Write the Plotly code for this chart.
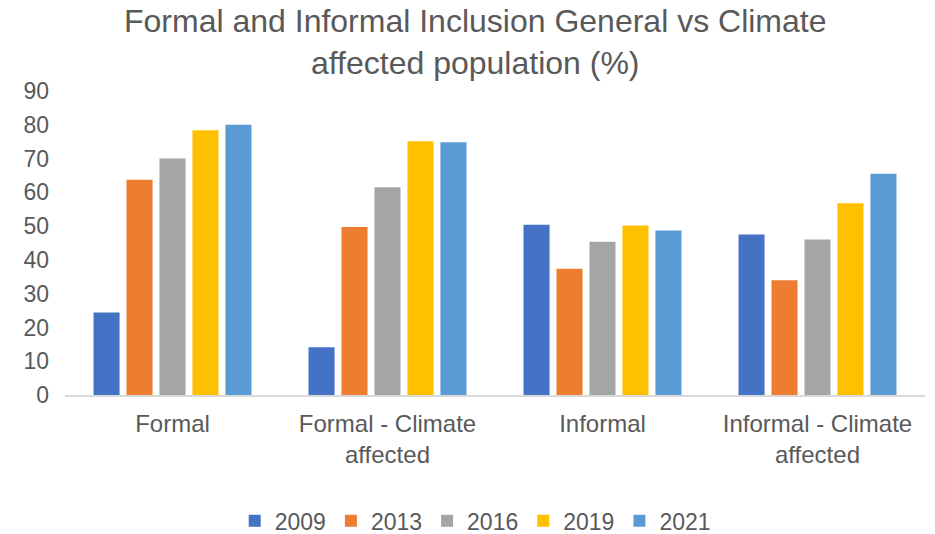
import plotly.graph_objects as go

categories = ["Formal", "Formal - Climate<br>affected", "Informal", "Informal - Climate<br>affected"]
years = ["2009", "2013", "2016", "2019", "2021"]
values_2009 = [24.4, 14.1, 50.4, 47.5]
values_2013 = [63.7, 49.7, 37.4, 34.0]
values_2016 = [70.0, 61.5, 45.4, 46.0]
values_2019 = [78.4, 75.1, 50.2, 56.8]
values_2021 = [80.0, 74.8, 48.7, 65.5]
y_ticks = [0, 10, 20, 30, 40, 50, 60, 70, 80, 90]

series = [values_2009, values_2013, values_2016, values_2019, values_2021]
colors = ["#4472C4", "#ED7D31", "#A5A5A5", "#FFC000", "#5B9BD5"]

font_family = "Arial, Liberation Sans, sans-serif"
text_color = "#595959"

fig = go.Figure()
for year, vals, col in zip(years, series, colors):
    fig.add_trace(go.Bar(
        x=categories, y=vals, name=year,
        marker=dict(color=col, line=dict(width=0)),
    ))

# chart title as a centred two-line annotation above the plot area
fig.add_annotation(
    text="Formal and Informal Inclusion General vs Climate<br>affected population (%)",
    xref="paper", yref="paper", x=0.477, y=1.161,
    xanchor="center", yanchor="middle", showarrow=False,
    font=dict(size=32, color=text_color, family=font_family),
)

fig.update_layout(
    width=935, height=534,
    margin=dict(l=65, r=10, t=91, b=139, autoexpand=False),
    paper_bgcolor="white", plot_bgcolor="white",
    barmode="group", bargap=0.233, bargroupgap=0.21,
    font=dict(family=font_family, color=text_color, size=23),
    xaxis=dict(
        showline=True, linecolor="#D9D9D9", linewidth=1.5,
        ticks="", tickfont=dict(size=24, color=text_color),
        ticklabelstandoff=6, showgrid=False,
    ),
    yaxis=dict(
        range=[0, 90], tickvals=y_ticks, showgrid=False,
        zeroline=False, showline=False, ticks="",
        ticklabelstandoff=15,
        tickfont=dict(size=23, color=text_color),
    ),
    legend=dict(
        orientation="h",
        x=0.477, xanchor="center", y=-0.414, yanchor="middle",
        font=dict(size=23, color=text_color),
        itemwidth=30, tracegroupgap=0,
    ),
)

fig.write_html("out.html")
